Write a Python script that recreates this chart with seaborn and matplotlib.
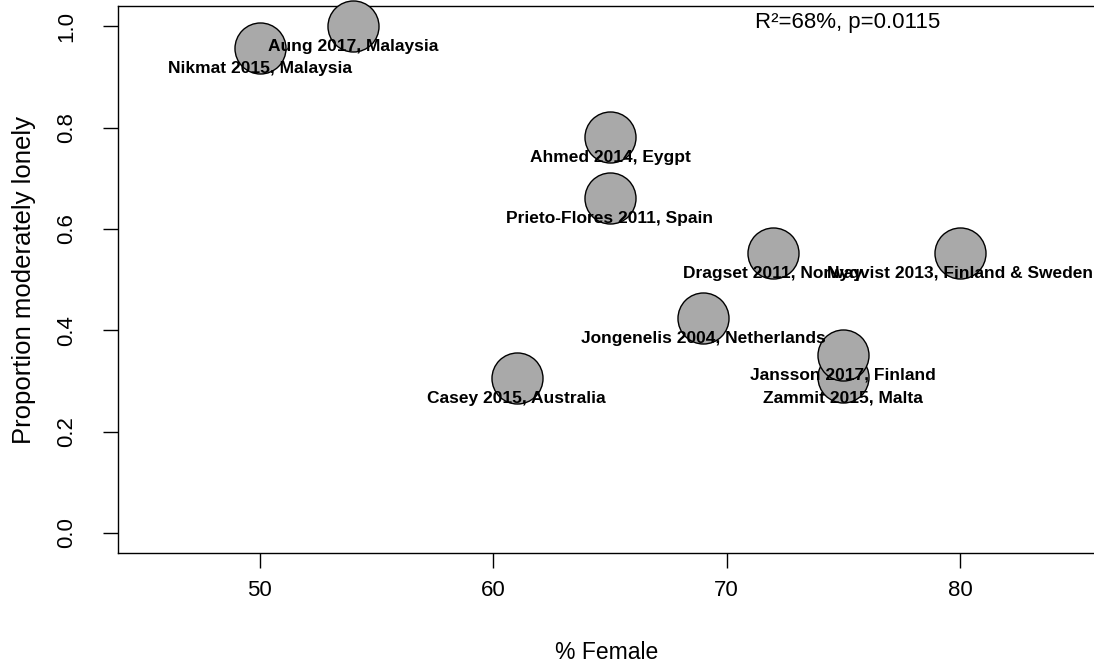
import pandas as pd
import numpy as np
import matplotlib
matplotlib.use("Agg")
import matplotlib.pyplot as plt
import seaborn as sns

studies = [
    "Nikmat 2015, Malaysia",
    "Aung 2017, Malaysia",
    "Ahmed 2014, Eygpt",
    "Prieto-Flores 2011, Spain",
    "Dragset 2011, Norway",
    "Nyqvist 2013, Finland & Sweden",
    "Jongenelis 2004, Netherlands",
    "Zammit 2015, Malta",
    "Jansson 2017, Finland",
    "Casey 2015, Australia",
]
pct_female = [50, 54, 65, 65, 72, 80, 69, 75, 75, 61]
prop_lonely = [0.957, 1.0, 0.781, 0.661, 0.552, 0.552, 0.424, 0.307, 0.351, 0.305]

df = pd.DataFrame({"study": studies, "female": pct_female, "lonely": prop_lonely})

sns.set_style("ticks")
plt.rcParams["font.family"] = ["Liberation Sans", "DejaVu Sans"]
plt.rcParams["text.color"] = "black"
plt.rcParams["axes.labelcolor"] = "black"
plt.rcParams["xtick.color"] = "black"
plt.rcParams["ytick.color"] = "black"

fig = plt.figure(figsize=(10.94, 6.66), dpi=100)
ax = fig.add_axes([0.1081, 0.1692, 0.8919, 0.8218])

# bubbles
sns.scatterplot(data=df, x="female", y="lonely", s=1350, color="#a9a9a9",
                edgecolor="black", linewidth=1.0, legend=False, ax=ax, zorder=3,
                clip_on=False)

# study labels under each bubble
for _, row in df.iterrows():
    ax.annotate(row["study"], (row["female"], row["lonely"]), xytext=(0, -14.5),
                textcoords="offset points", ha="center", va="center",
                fontsize=12.5, fontweight="bold", color="black", zorder=5)

ax.text(75.2, 1.008, "R²=68%, p=0.0115", ha="center", va="center", fontsize=16)

ax.set_xlim(43.93, 85.74)
ax.set_ylim(-0.04, 1.04)
ax.set_xticks([50, 60, 70, 80])
ax.set_yticks([0.0, 0.2, 0.4, 0.6, 0.8, 1.0])
ax.set_yticklabels(["0.0", "0.2", "0.4", "0.6", "0.8", "1.0"], rotation=90, va="center")
ax.tick_params(axis="both", length=10.8, width=1, labelsize=16, color="black")
ax.tick_params(axis="x", pad=8.5)
ax.tick_params(axis="y", pad=18.5)
ax.set_xlabel("% Female", fontsize=16.5, labelpad=29)
ax.set_ylabel("Proportion moderately lonely", fontsize=18.5, labelpad=15)

for side in ["left", "bottom", "top"]:
    ax.spines[side].set_linewidth(1.0)
    ax.spines[side].set_color("black")
ax.spines["right"].set_visible(False)

fig.savefig("out.png", dpi=100)
